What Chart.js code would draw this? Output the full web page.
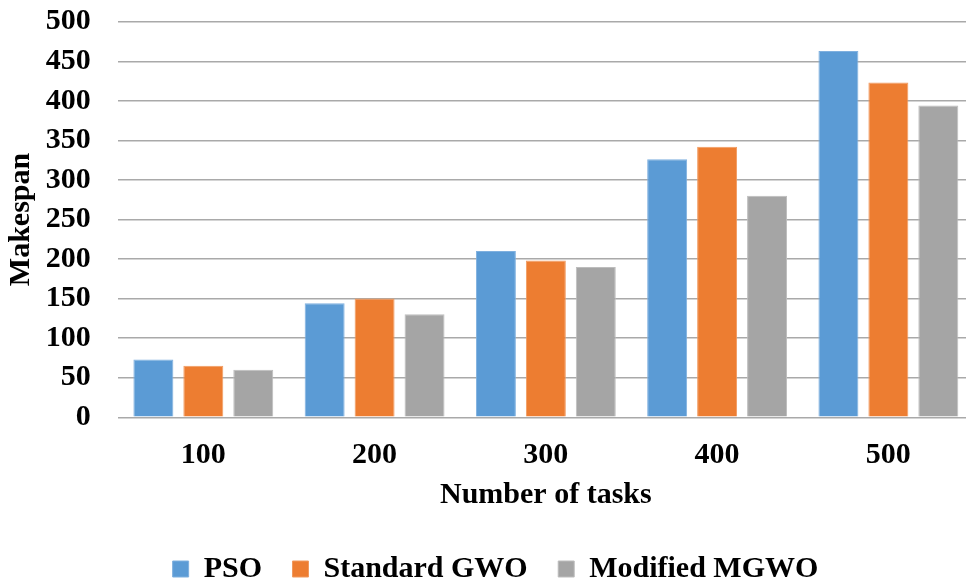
<!DOCTYPE html>
<html>
<head>
<meta charset="utf-8">
<script src="https://cdn.jsdelivr.net/npm/chart.js@4/dist/chart.umd.min.js"></script>
<style>
  html, body { margin: 0; padding: 0; background: #ffffff; overflow: hidden; }
  #wrap { width: 982px; height: 594px; }
</style>
</head>
<body>
<div id="wrap"><canvas id="chart" width="982" height="594"></canvas></div>
<script>
// Makespan per algorithm for each task count
const taskCounts = ['100', '200', '300', '400', '500'];
const psoMakespan = [73, 144, 210, 326, 463];
const gwoMakespan = [65, 150, 198, 342, 423];
const mgwoMakespan = [60, 130, 190, 280, 394];
const seriesNames = ['PSO', 'Standard GWO', 'Modified MGWO'];
const yTicks = [0, 50, 100, 150, 200, 250, 300, 350, 400, 450, 500];

const serif = "'Liberation Serif', 'Times New Roman', serif";
const font = { family: serif, size: 30, weight: 'bold' };
const gridGray = '#a9a9a9';

Chart.defaults.font.family = serif;
Chart.defaults.color = '#000000';

new Chart(document.getElementById('chart'), {
  type: 'bar',
  data: {
    labels: taskCounts,
    datasets: [
      { label: seriesNames[0], data: psoMakespan, backgroundColor: '#5b9bd5', borderColor: '#7fb0df', borderWidth: 1 },
      { label: seriesNames[1], data: gwoMakespan, backgroundColor: '#ed7d31', borderColor: '#f19a5f', borderWidth: 1 },
      { label: seriesNames[2], data: mgwoMakespan, backgroundColor: '#a5a5a5', borderColor: '#bdbdbd', borderWidth: 1 }
    ]
  },
  options: {
    responsive: false,
    animation: false,
    devicePixelRatio: 1,
    categoryPercentage: 0.875,
    barPercentage: 0.8,
    layout: { padding: { left: 17, right: 8, top: 0, bottom: 0 } },
    plugins: {
      tooltip: { enabled: false },
      legend: {
        position: 'bottom',
        labels: {
          font: font,
          color: '#000000',
          boxWidth: 16,
          boxHeight: 16,
          padding: 30.5
        }
      }
    },
    scales: {
      x: {
        afterFit: (axis) => { axis.height = 106.3; },
        grid: { display: false, drawTicks: false },
        border: { display: false },
        ticks: { font: font, color: '#000000', padding: 20 },
        title: { display: true, text: 'Number of tasks', font: font, color: '#000000', padding: { top: 5.8, bottom: 10.5 } }
      },
      y: {
        min: 0,
        max: 500,
        afterBuildTicks: (axis) => { axis.ticks = yTicks.map(v => ({ value: v })); },
        afterFit: (axis) => { axis.width = 100.7; axis.paddingTop = 21.7; axis.paddingBottom = 0; },
        grid: { color: gridGray, lineWidth: 1.4, drawTicks: false },
        border: { display: false },
        ticks: { font: font, color: '#000000', padding: 27, autoSkip: false },
        title: { display: true, text: 'Makespan', font: font, color: '#000000', padding: { top: -14, bottom: 6.7 } }
      }
    }
  }
});
</script>
</body>
</html>
